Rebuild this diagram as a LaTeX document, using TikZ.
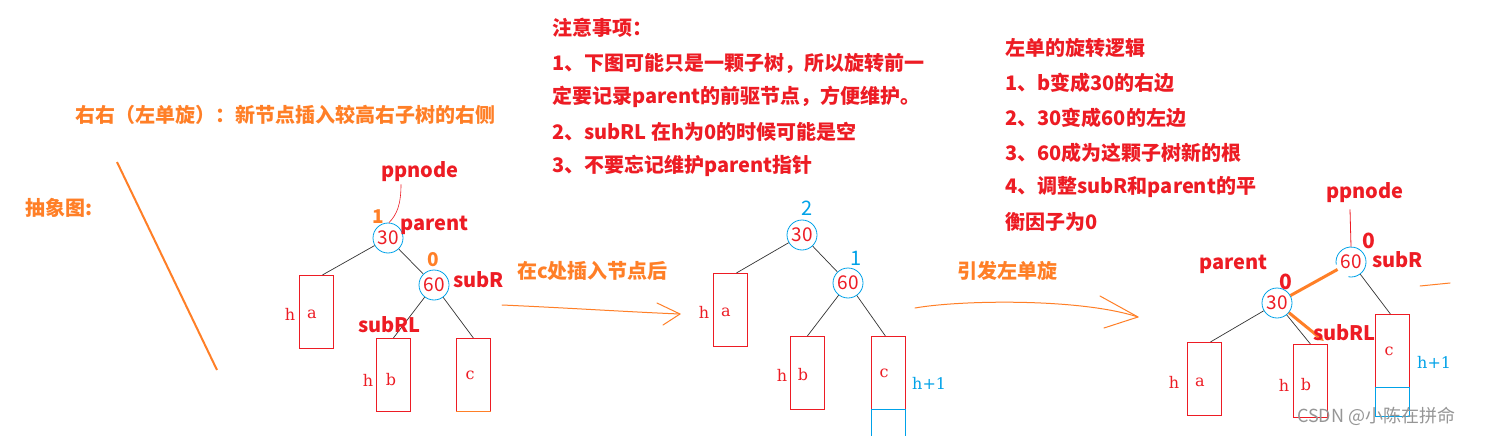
\documentclass[tikz,border=0pt]{standalone}
\usepackage{fontspec}
\newfontfamily\cjk{Noto Sans CJK SC}
\newfontfamily\serfont{DejaVu Serif}
\usetikzlibrary{arrows.meta}
\definecolor{myred}{RGB}{237,28,36}
\definecolor{myorange}{RGB}{255,127,39}
\definecolor{myblue}{RGB}{0,162,232}
\definecolor{mygray}{RGB}{150,150,150}
\tikzset{
  rnote/.style={font=\cjk\bfseries\fontsize{20}{24}\selectfont, text=myred, anchor=west, inner sep=0pt},
  onote/.style={font=\cjk\bfseries\fontsize{20}{24}\selectfont, text=myorange, anchor=west, inner sep=0pt},
  rlbl/.style={font=\cjk\bfseries\fontsize{20}{24}\selectfont, text=myred, inner sep=0pt},
  onum/.style={font=\cjk\bfseries\fontsize{19}{20}\selectfont, text=myorange, inner sep=0pt},
  bnum/.style={font=\cjk\fontsize{20}{22}\selectfont, text=myblue, inner sep=0pt},
  rnum/.style={font=\cjk\bfseries\fontsize{21}{22}\selectfont, text=myred, inner sep=0pt},
  tnode/.style={circle, draw=myblue, line width=0.8pt, minimum size=30pt, inner sep=0pt, text=myred, font=\cjk\fontsize{19}{20}\selectfont},
  tbox/.style={draw=myred, line width=0.8pt, minimum width=34pt, minimum height=73pt, anchor=north west, inner sep=0pt},
  ser/.style={font=\serfont\fontsize{16}{20}\selectfont, text=myred, inner sep=0pt},
  bser/.style={font=\serfont\fontsize{16}{20}\selectfont, text=myblue, inner sep=0pt, anchor=west},
  bline/.style={draw=myblue, line width=1pt},
  tedge/.style={draw=black!80, line width=0.7pt},
  ofree/.style={draw=myorange, line width=1pt, line cap=round, line join=round},
  othick/.style={draw=myorange, line width=3pt},
}
\begin{document}
\begin{tikzpicture}[x=1pt, y=-1pt]
\useasboundingbox[fill=white] (0,0) rectangle (1510,436);

% ---- texts
\node[onote] (title) at (75,115) {右右（左单旋）：新节点插入较高右子树的右侧};
\node[onote] (abs) at (25,208) {抽象图:};
\coordinate (d1) at (117,162);
\coordinate (d2) at (217,370);
\draw[myorange, line width=2pt] (d1) -- (d2);

\node[rnote] (n0) at (552,28) {注意事项：};
\node[rnote] (n1) at (552,63) {1、下图可能只是一颗子树，所以旋转前一};
\node[rnote] (n2) at (552,97) {定要记录parent的前驱节点，方便维护。};
\node[rnote] (n3) at (552,132) {2、subRL 在h为0的时候可能是空};
\node[rnote] (n4) at (552,166) {3、不要忘记维护parent指针};

\node[rnote] (m0) at (1005,48) {左单的旋转逻辑};
\node[rnote] (m1) at (1005,83) {1、b变成30的右边};
\node[rnote] (m2) at (1005,118) {2、30变成60的左边};
\node[rnote] (m3) at (1005,153) {3、60成为这颗子树新的根};
\node[rnote] (m4) at (1005,187) {4、调整subR和parent的平};
\node[rnote] (m5) at (1005,222) {衡因子为0};

% ---- tree 1
\node[tnode] (p1) at (388,238) {30};
\node[tnode] (s1) at (434,285) {60};
\node[tbox] (a1) at (299,275) {};
\node[tbox] (b1) at (376,338) {};
\node[tbox] (c1) at (456,338) {};
\draw[myorange, line width=1pt] (c1.south west) -- (c1.south east);
\node[ser] (a1t) at (312,314) {a};
\node[ser] (a1h) at (290,314) {h};
\node[ser] (b1t) at (391,380) {b};
\node[ser] (b1h) at (368,380) {h};
\node[ser] (c1t) at (470,375) {c};
\draw[tedge] (p1) -- ([xshift=6pt]a1.north);
\draw[tedge] (p1) -- (s1);
\draw[tedge] (s1) -- (b1.north);
\draw[tedge] (s1) -- (c1.north);
\node[rlbl] (pp1) at (420,172) {ppnode};
\node[onum] (bf1) at (378,217) {1};
\node[rlbl, anchor=west] (par1) at (400,225) {parent};
\node[onum] (bf2) at (433,260) {0};
\node[rlbl, anchor=west] (sr1) at (453,280) {subR};
\node[rlbl, anchor=west] (srl1) at (358,325) {subRL};
\draw[myred, line width=0.6pt] ([xshift=-19pt, yshift=-2pt]pp1.south) .. controls +(0,20) and +(8,-8) .. ([xshift=1pt]p1.north);

% ---- arrow 1
\node[onote] (lab1) at (517,271) {在c处插入节点后};
\coordinate (r1s) at (502,305);
\coordinate (r1e) at (680,314);
\coordinate (r1h1) at (657,303);
\coordinate (r1h2) at (663,325);
\draw[ofree] (r1s) .. controls (570,308) and (630,312) .. (r1e);
\draw[ofree] (r1h1) -- (r1e) -- (r1h2);

% ---- tree 2
\node[tnode] (p2) at (802,235) {30};
\node[tnode] (s2) at (848,283) {60};
\node[tbox] (a2) at (713,273) {};
\node[tbox] (b2) at (790,336) {};
\node[tbox] (c2) at (871,336) {};
\draw[bline] ([yshift=-30pt]c2.south west) -- (c2.south west) -- (c2.south east) -- ([yshift=-30pt]c2.south east);
\node[ser] (a2t) at (726,312) {a};
\node[ser] (a2h) at (704,312) {h};
\node[ser] (b2t) at (803,375) {b};
\node[ser] (b2h) at (782,375) {h};
\node[ser] (c2t) at (884,373) {c};
\node[bser] (h2) at (912,383) {h+1};
\draw[tedge] (p2) -- ([xshift=6pt]a2.north);
\draw[tedge] (p2) -- (s2);
\draw[tedge] (s2) -- (b2.north);
\draw[tedge] (s2) -- ([xshift=-3pt]c2.north);
\node[bnum] (bf3) at (807,208) {2};
\node[bnum] (bf4) at (856,258) {1};

% ---- arrow 2
\node[onote] (lab2) at (957,271) {引发左单旋};
\coordinate (r2s) at (915,308);
\coordinate (r2e) at (1138,317);
\coordinate (r2h1) at (1100,296);
\coordinate (r2h2) at (1104,328);
\draw[ofree] (r2s) .. controls (960,300) and (1080,298) .. (r2e);
\draw[ofree] (r2h1) -- (r2e) -- (r2h2);

% ---- tree 3
\node[tnode, draw=none] (s3) at (1351,262) {60};
\draw[myblue, line width=0.8pt] (s3.center) ++(100:15) arc[start angle=100, end angle=-190, radius=15];
\node[tnode] (p3) at (1277,303) {30};
\node[tbox] (a3) at (1187,342) {};
\node[tbox] (b3) at (1293,344) {};
\node[tbox] (c3) at (1375,314) {};
\draw[bline] (c3.south west) rectangle ([yshift=-29pt]c3.south east);
\node[ser] (a3t) at (1200,382) {a};
\node[ser] (a3h) at (1174,382) {h};
\node[ser] (b3t) at (1306,385) {b};
\node[ser] (b3h) at (1284,385) {h};
\node[ser] (c3t) at (1389,351) {c};
\node[bser] (h3) at (1417,362) {h+1};
\draw[tedge] (s3) -- ([xshift=-2pt]c3.north);
\draw[tedge] (p3) -- ([xshift=6pt]a3.north);
\draw[tedge] (p3) -- (b3.north);
\draw[othick] (s3) -- (p3);
\draw[othick, -{Stealth[length=8pt,width=8pt]}] (p3) -- ([xshift=-4pt, yshift=3pt]b3.north east);
\node[rlbl] (pp3) at (1365,193) {ppnode};
\draw[myred, line width=0.8pt] ([xshift=-15pt, yshift=-6pt]pp3.south) -- (s3.north);
\node[rnum] (bf5) at (1369,241) {0};
\node[rlbl, anchor=west] (sr3) at (1372,260) {subR};
\node[rlbl, anchor=west] (par3) at (1199,264) {parent};
\node[rnum] (bf6) at (1286,282) {0};
\node[rlbl, anchor=west] (srl3) at (1313,333) {subRL};
\coordinate (o1) at (1420,286);
\coordinate (o2) at (1450,283);
\draw[ofree] (o1) -- (o2);

\node[font=\cjk\fontsize{18}{20}\selectfont, text=mygray, anchor=west, inner sep=0pt] (wm) at (1297,416) {CSDN @小陈在拼命};
\end{tikzpicture}
\end{document}
